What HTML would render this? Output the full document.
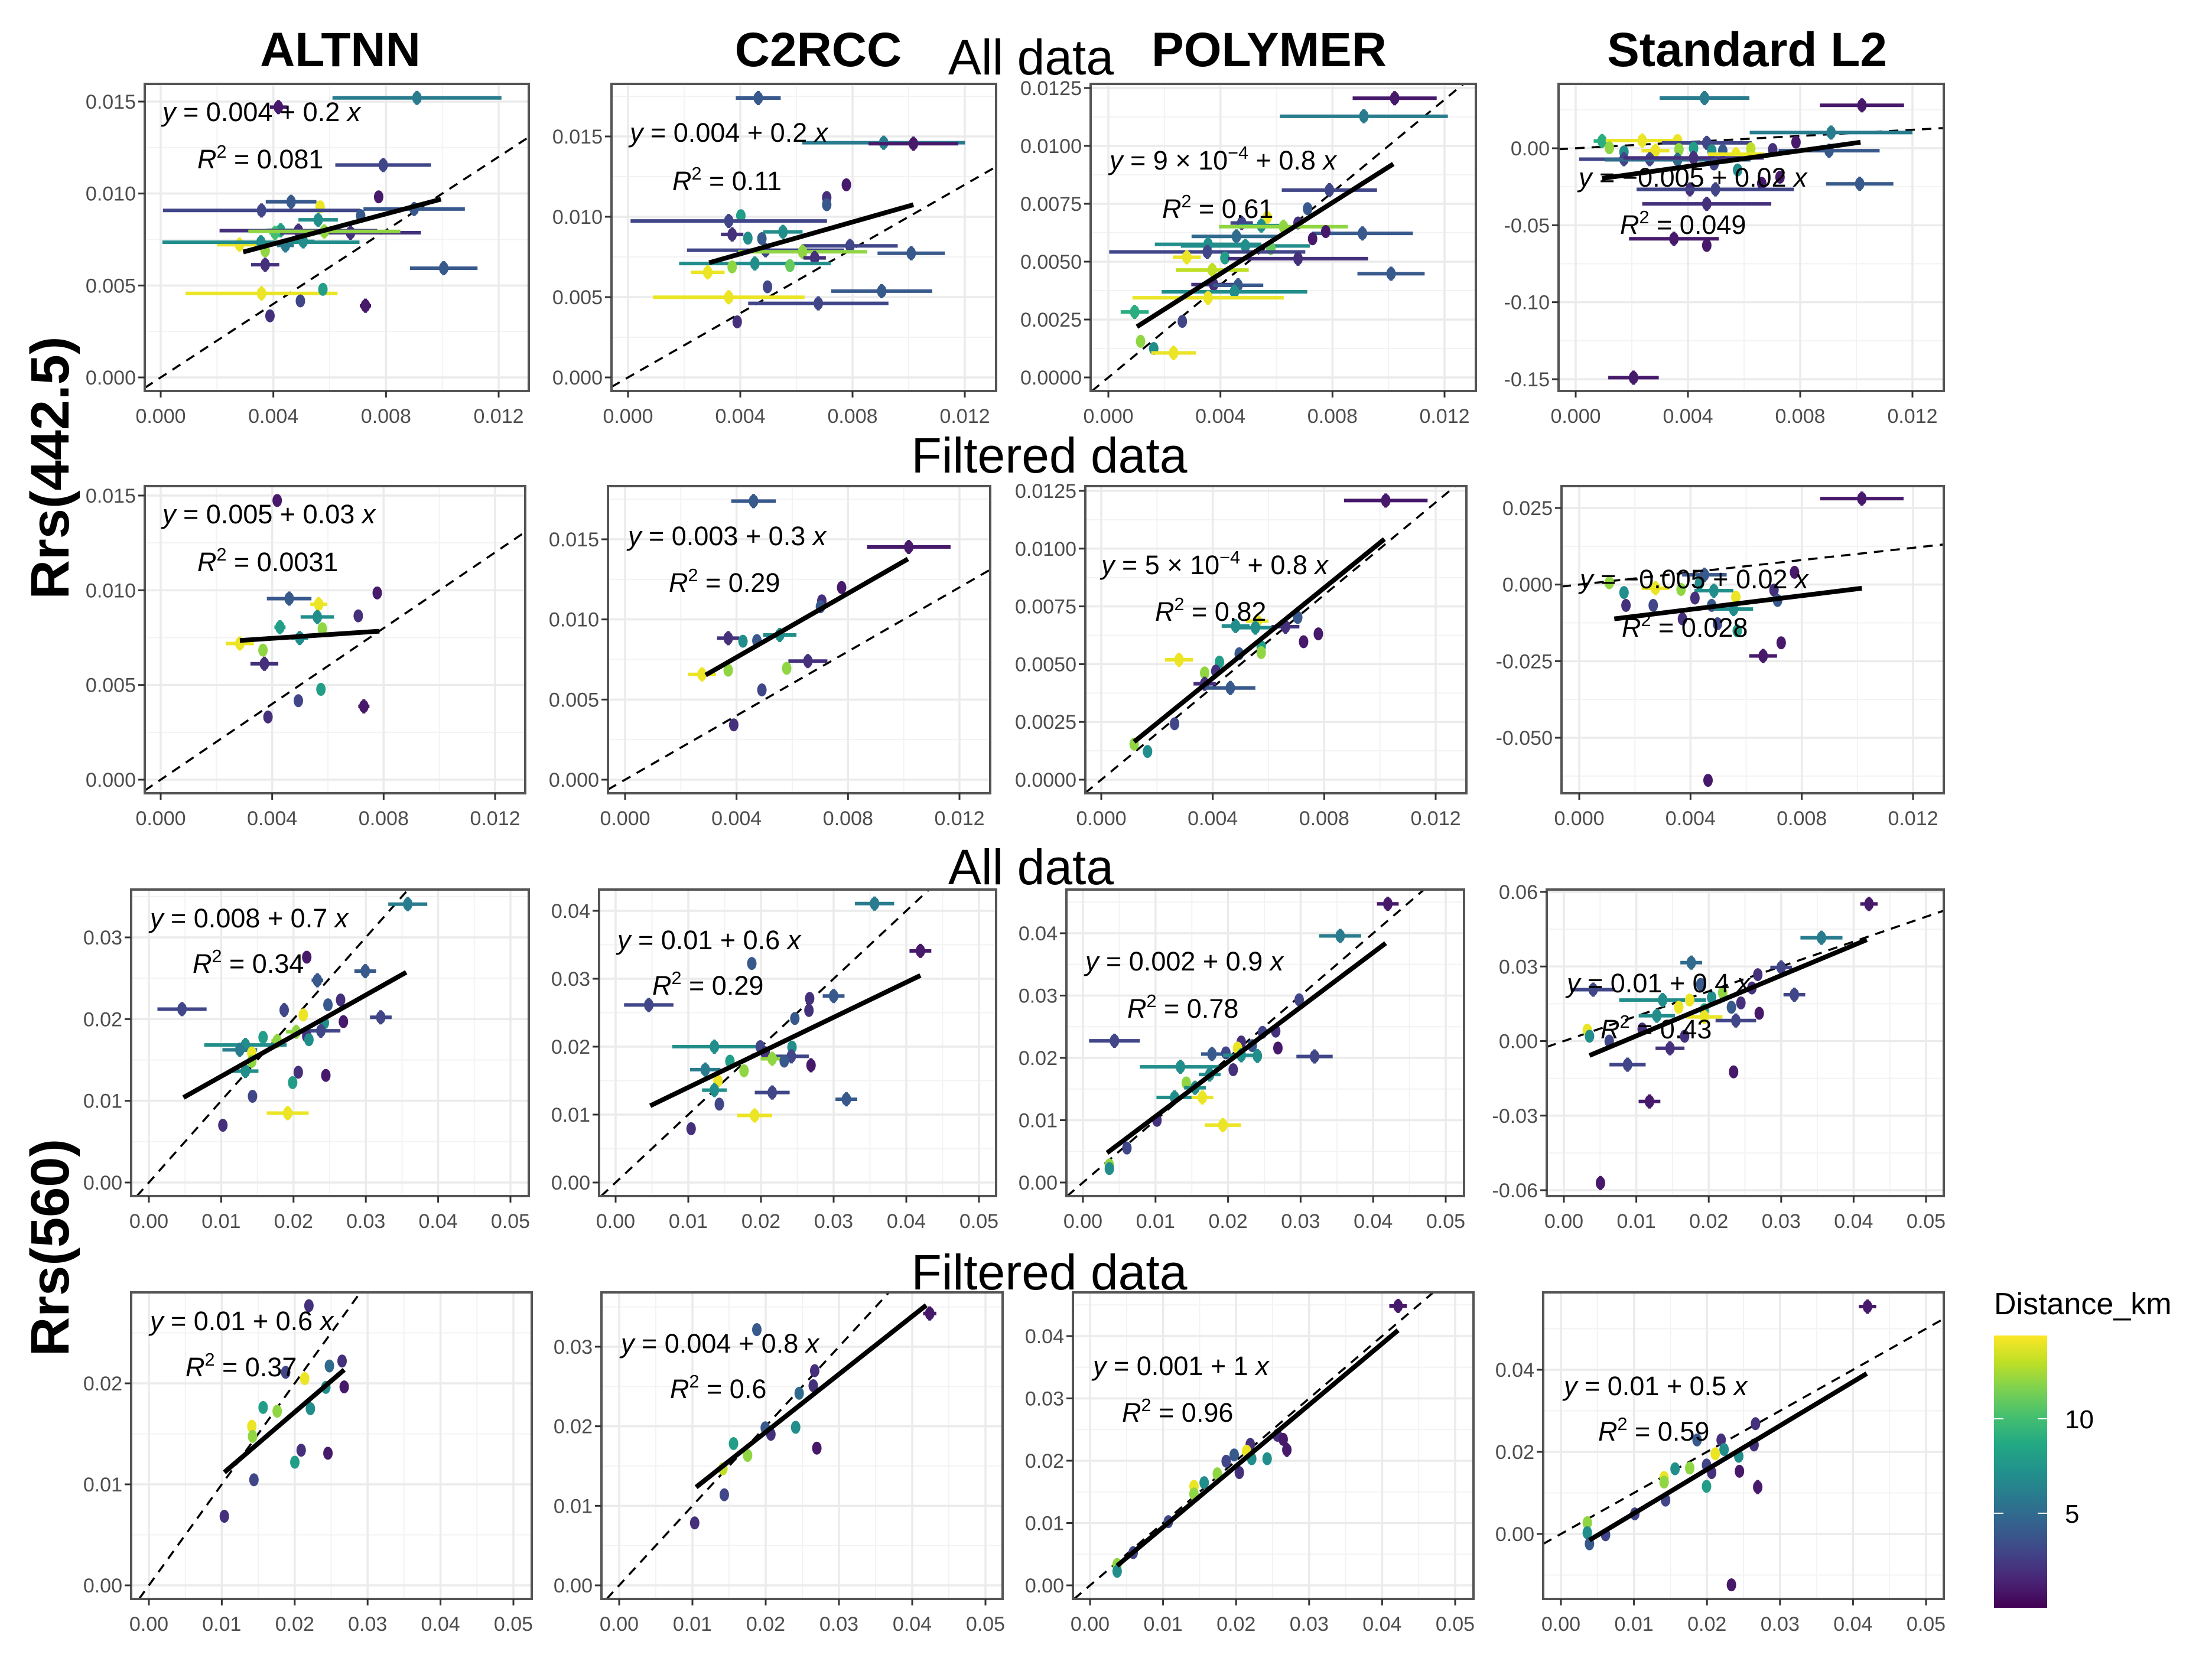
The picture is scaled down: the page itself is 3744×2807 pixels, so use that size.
<!DOCTYPE html>
<html><head><meta charset="utf-8">
<style>
html,body{margin:0;padding:0;background:#fff;overflow:hidden;width:3744px;height:2807px;}
svg{display:block;font-family:"Liberation Sans",sans-serif;overflow:hidden;}
</style></head>
<body>
<svg id="fig" width="3744" height="2807" viewBox="0 0 3744 2807" xmlns="http://www.w3.org/2000/svg"></svg>
<script>
// ---------- DATA (x, y, horizontal error half-width, distance km) ----------
const p11X=[.0091,.00418,.0079,.00774,.00463,.00566,.00358,.0090,.00559,.0071,.00426,.00406,.00489,.00674,.00581,.0028,.00356,.00443,.00506,.00371,.00371,.01005,.00358,.00576,.00496,.00727,.00388];
const p11Y=[.0152,.0147,.01155,.00982,.00955,.00928,.00908,.00916,.00857,.0088,.0080,.00787,.00798,.00787,.00794,.00722,.00735,.00718,.0074,.00689,.00613,.00594,.00457,.00479,.00416,.0039,.00335];
const p11E=[.003,.0003,.0017,0,.0009,0,.0035,.0018,.0007,0,.0005,.0002,.0028,.0025,.0027,.0008,.0035,.0003,.0004,0,.0005,.0012,.0027,0,0,.0002,0];
const p11D=[6,1,3,1,4,14,3,4,7,4,8,10,2,2,12,14,7,6,7,12,2,4,14,8,3,1,2];

const p12X=[.00464,.00911,.01017,.00778,.00708,.00708,.00402,.00359,.00552,.00371,.00427,.00477,.00791,.0049,.00622,.01009,.00665,.00452,.00577,.00371,.00284,.00497,.00904,.00359,.00678,.00389];
const p12Y=[.01739,.01461,.01455,.01199,.0112,.01075,.01007,.00974,.00906,.0089,.00867,.00864,.00819,.00792,.00782,.00773,.00744,.00709,.00696,.00688,.00654,.00564,.00537,.00499,.00461,.00346];
const p12E=[.0008,.0029,.0016,0,0,0,0,.0035,.0007,.0004,0,0,.0017,.0028,.0023,.0012,.0004,.0027,0,0,.0006,0,.0018,.0027,.0025,0];
const p12D=[4,6,1,1,2,4,8,3,7,2,7,4,3,3,12,4,2,7,11,12,14,3,4,14,3,2];

const p13X=[.01022,.00912,.00789,.00711,.00567,.00476,.00546,.00677,.00625,.00907,.00776,.00729,.00457,.00356,.00489,.0058,.00353,.0028,.00416,.00677,.00371,.00376,.00463,.0045,.00356,.01009,.00094,.00264,.00115,.00162,.00233];
const p13Y=[.01206,.01128,.00809,.00729,.00691,.00667,.00656,.00667,.00651,.00622,.0063,.00599,.00609,.00575,.00568,.00557,.00542,.00519,.00516,.00513,.00464,.00401,.00398,.0037,.00344,.00448,.00283,.00242,.00156,.00125,.00106];
const p13E=[.0015,.003,.0017,0,0,.0004,.0008,0,.0023,.0018,0,0,.0016,.0019,.0023,0,.0035,.0005,0,.0025,.0013,.0008,.0009,.0026,.0027,.0012,.0005,0,0,0,.0008];
const p13D=[1,6,3,4,14,3,7,2,12,4,1,1,5,7,7,11,3,14,8,2,13,2,4,7,14,4,9,3,12,7,14];

const p14X=[.00459,.0102,.0091,.00094,.00237,.00363,.00467,.00785,.0012,.00172,.00284,.00368,.0042,.00485,.00524,.00624,.00571,.00702,.00903,.00172,.00264,.00363,.0042,.00493,.00577,.00728,.00663,.01012,.00407,.00498,.00467,.0035,.00467,.00206];
const p14Y=[.0326,.0279,.0102,.0047,.005,.005,.0035,.0039,.0003,-.0024,-.0016,-.0008,0,-.0016,-.0016,-.0003,-.0039,-.0008,-.0016,-.0071,-.0071,-.0075,-.0063,-.0102,-.0141,-.0188,-.0228,-.0231,-.0267,-.0267,-.0361,-.0588,-.0631,-.149];
const p14E=[.0016,.0015,.0029,.0003,.0013,0,.0016,0,0,0,.0005,0,0,0,0,0,.001,0,.0018,.0016,.0016,.0026,.0025,0,0,0,0,.0012,.0019,.0028,.0023,.0016,0,.0009];
const p14D=[6,1,6,9,14,14,3,1,12,7,14,12,8,7,4,13,14,2,4,3,3,5,2,3,7,1,1,4,2,3,2,1,1,1];

const p21X=[.00418,.00777,.00461,.00567,.00562,.00709,.00428,.0058,.00499,.00284,.00367,.00372,.00575,.00494,.00729,.00385];
const p21Y=[.01474,.00986,.00956,.00926,.00859,.00865,.00805,.00797,.00748,.00719,.00684,.00612,.00477,.00417,.00387,.00331];
const p21E=[0,0,.0008,.0003,.0006,0,.0002,0,.0003,.0005,0,.0005,0,0,.0002,0];
const p21D=[1,1,4,14,7,2,8,12,7,14,12,2,8,3,1,2];

const p22X=[.00461,.01018,.00777,.00706,.00701,.00555,.0037,.00423,.00473,.00656,.0037,.0058,.00276,.00491,.0039];
const p22Y=[.01738,.01452,.01199,.01116,.01079,.00903,.00883,.00864,.00868,.0074,.00683,.00695,.00657,.0056,.00342];
const p22E=[.0008,.0015,0,0,0,.0006,.0004,0,0,.0007,0,0,.0005,0,0];
const p22D=[4,1,1,2,4,7,2,7,4,2,12,12,14,3,2];

const p23X=[.01021,.00705,.0056,.00482,.00553,.00661,.00779,.00726,.00574,.00574,.00495,.00279,.00424,.00411,.00371,.00371,.00463,.00263,.00118,.00166];
const p23Y=[.01208,.00702,.00686,.00665,.00658,.00662,.00631,.00597,.00576,.0055,.00545,.00519,.00509,.0047,.00462,.00415,.00397,.00242,.00154,.00122];
const p23E=[.0015,0,.0004,.0005,.0007,.0005,0,0,0,0,0,.0005,0,0,0,.0004,.0009,0,0,0];
const p23D=[1,4,14,7,7,2,1,1,8,12,4,14,8,2,12,2,4,3,12,7];

const p24X=[.01016,.00774,.00108,.0045,.00432,.00161,.00274,.00366,.00484,.007,.00563,.00416,.00713,.00168,.00266,.00476,.00555,.00371,.00497,.00568,.00726,.00661,.00463];
const p24Y=[.02806,.004,.0006,.0032,.0004,-.0026,-.0012,-.0016,-.002,-.0018,-.0041,-.0044,-.0052,-.0068,-.0068,-.0068,-.008,-.0112,-.0128,-.0151,-.019,-.0233,-.0639];
const p24E=[.0015,0,0,.0008,0,0,.0005,0,.0007,0,0,0,0,0,0,0,.0007,0,0,0,0,.0005,0];
const p24D=[1,1,12,4,7,7,14,12,7,2,14,2,4,2,3,4,7,2,3,8,1,1,1];

const p31X=[.0358,.02183,.02992,.0233,.02651,.02476,.00458,.01871,.02135,.03207,.0269,.02427,.02378,.02037,.02183,.01579,.02213,.01774,.01335,.01257,.01423,.01423,.01335,.02066,.02447,.01988,.01433,.0192,.01023];
const p31Y=[.03407,.02758,.02587,.02475,.02234,.02175,.02122,.0211,.02051,.02022,.01969,.01954,.01857,.01845,.01792,.01777,.01748,.01733,.01683,.01624,.01586,.01482,.01364,.0135,.01311,.01223,.01055,.00849,.00701];
const p31E=[.0027,0,.0015,.0008,0,0,.0034,.0005,0,.0015,0,0,.0027,.0014,0,0,0,.0008,.0057,.0024,0,0,.0018,0,0,0,0,.0029,0];
const p31D=[6,1,4,4,2,4,3,3,14,3,1,7,3,12,2,8,7,12,7,6,14,12,7,2,1,8,3,14,2];

const p32X=[.03563,.04194,.01874,.00456,.03,.0267,.0266,.02466,.01359,.0199,.02427,.02058,.02418,.02155,.0232,.01573,.02689,.01767,.01233,.01408,.01359,.02155,.03175,.01427,.01913,.01039];
const p32Y=[.04106,.0341,.03225,.02614,.02746,.0271,.02533,.02415,.02,.02,.01993,.01911,.01858,.01822,.01787,.01787,.01726,.01645,.01662,.01495,.0136,.01325,.01225,.01154,.00987,.00792];
const p32E=[.0027,.0015,0,.0034,.0015,0,0,0,.0058,0,0,0,.0024,.0016,0,0,.0005,0,.0021,0,.0017,.0024,.0015,0,.0024,0];
const p32D=[6,1,4,3,4,2,2,4,7,3,7,2,3,12,4,8,1,12,6,14,7,3,4,3,14,2];

const p33X=[.04202,.03545,.0298,.00434,.02475,.02657,.02687,.02182,.02333,.02131,.01778,.0197,.02182,.02404,.03192,.01343,.02071,.01747,.01424,.01545,.01263,.01646,.0102,.01929,.00606,.00364,.00364];
const p33Y=[.04472,.03957,.02932,.02274,.0241,.02429,.02158,.02255,.02197,.02158,.02062,.02081,.02042,.02031,.02023,.01857,.0181,.01733,.01598,.0152,.01365,.01365,.00998,.00921,.00553,.00282,.00224];
const p33E=[.0015,.0029,0,.0035,0,0,0,0,0,0,.0015,0,.0025,.0005,.0025,.0056,0,.0015,0,.0015,.0025,.0015,0,.0025,0,0,0];
const p33D=[1,6,3,3,3,2,1,2,4,14,4,3,7,7,3,7,2,7,12,7,7,14,2,14,3,12,7];

const p34X=[.04212,.03556,.01758,.03,.00404,.03182,.02677,.01889,.02596,.02192,.01364,.01737,.0204,.02444,.01586,.01939,.02313,.02697,.01283,.01939,.02374,.01081,.00323,.00354,.00626,.01667,.01465,.00879,.02343,.01182,.00505];
const p34Y=[.05515,.04155,.03155,.02961,.02068,.01864,.0267,.02282,.02136,.01942,.0165,.0165,.01748,.01534,.01359,.01262,.01359,.01117,.0102,.00971,.00825,.00485,.00437,.00194,0,.00194,-.0029,-.0095,-.0124,-.0243,-.0571];
const p34E=[.0012,.0029,.0015,.0015,.003,.0015,0,0,0,0,.006,0,0,0,0,0,0,0,.0025,.0025,.0028,0,0,0,0,0,.002,.0025,0,.0015,.0005];
const p34D=[1,6,5,3,3,3,2,4,2,12,7,14,7,2,14,9,4,1,7,14,3,2,14,7,3,2,2,3,1,1,1];

const p41X=[.02195,.0265,.02476,.01876,.02137,.02679,.02427,.01567,.02215,.0176,.01412,.01422,.02089,.02456,.02002,.01441,.01035];
const p41Y=[.02769,.02221,.02172,.02109,.02047,.01965,.0196,.01761,.01749,.01724,.01575,.01475,.01338,.01308,.01219,.01045,.00684];
const p41E=[0,0,0,0,0,0,0,0,0,0,0,0,0,0,0,0,0];
const p41D=[2,2,5,3,14,1,7,8,7,12,14,12,2,1,8,3,2];

const p42X=[.04239,.01879,.02669,.02649,.02457,.01994,.02409,.02071,.02698,.01561,.01753,.01416,.01435,.01031];
const p42Y=[.03418,.03215,.02699,.0251,.02415,.01981,.01987,.01899,.01725,.01782,.01633,.01465,.01139,.00785];
const p42E=[.0009,0,0,0,0,0,0,0,0,0,0,0,0,0];
const p42D=[1,4,2,2,5,4,7,2,1,8,12,13,3,2];

const p43X=[.04218,.02565,.02645,.02695,.02194,.02144,.01974,.01864,.02214,.02425,.02044,.01743,.01563,.01423,.01423,.01072,.00591,.00371,.00371];
const p43Y=[.04484,.02408,.02343,.02174,.02262,.02153,.02093,.01992,.02032,.02032,.0181,.0179,.01648,.01588,.01467,.01022,.00525,.00335,.00226];
const p43E=[.0012,0,0,.0005,0,0,0,0,0,0,0,0,0,0,0,0,0,0,0];
const p43D=[1,2,1,1,2,14,4,3,7,7,2,12,7,14,12,3,3,12,7];

const p44X=[.04198,.02665,.02194,.01864,.02645,.02234,.02114,.02435,.01994,.01563,.01764,.02064,.02445,.01413,.01413,.01994,.02695,.01433,.01012,.00361,.00361,.00611,.00391,.02335];
const p44Y=[.05539,.02687,.0229,.0229,.02168,.02058,.01954,.01893,.01679,.01588,.01606,.01496,.01527,.01374,.01264,.0116,.01142,.00824,.00489,.00275,.0003,-.0002,-.0024,-.0124];
const p44E=[.0012,0,0,0,0,0,0,0,0,0,0,0,0,0,0,0,.0005,0,0,0,0,0,0,0];
const p44D=[1,2,2,4,2,7,14,7,3,7,12,2,1,14,12,8,1,3,3,12,7,3,4,1];

// regression line endpoints (data units) [x1,x2] and [y1,y2]
const fitX=[[.00293,.00995],[.00289,.01017],[.00102,.01017],[.00094,.01015],[.00284,.00785],[.00289,.01015],[.00118,.01016],[.00126,.01016],[.00478,.03558],[.00476,.04194],[.00333,.04172],[.00354,.04182],[.01035,.02679],[.0105,.04191],[.00371,.04218],[.00391,.04188]];
const fitY=[[.00682,.00969],[.00714,.01075],[.00219,.00922],[-.0196,.0039],[.00735,.00784],[.00653,.01377],[.00164,.01041],[-.0112,-.0012],[.0104,.02573],[.0113,.03048],[.00476,.03841],[-.0058,.04078],[.01119,.02134],[.01234,.03522],[.00315,.04093],[-.0015,.03908]];
const eqLabels=["*y* = 0.004 + 0.2 *x*","*y* = 0.004 + 0.2 *x*","*y* = 9 × 10^−4^ + 0.8 *x*","*y* = −0.005 + 0.02 *x*","*y* = 0.005 + 0.03 *x*","*y* = 0.003 + 0.3 *x*","*y* = 5 × 10^−4^ + 0.8 *x*","*y* = −0.005 + 0.02 *x*","*y* = 0.008 + 0.7 *x*","*y* = 0.01 + 0.6 *x*","*y* = 0.002 + 0.9 *x*","*y* = 0.01 + 0.4 *x*","*y* = 0.01 + 0.6 *x*","*y* = 0.004 + 0.8 *x*","*y* = 0.001 + 1 *x*","*y* = 0.01 + 0.5 *x*"];
const r2Labels=["0.081","0.11","0.61","0.049","0.0031","0.29","0.82","0.028","0.34","0.29","0.78","0.43","0.37","0.6","0.96","0.59"];
const xTicks442=[0,.004,.008,.012];
const xTicks560=[0,.01,.02,.03,.04,.05];
const yTicksA=[0,.005,.01,.015];
const yTicksP=[0,.0025,.005,.0075,.01,.0125];
const yTicksS1=[-.15,-.1,-.05,0];
const yTicksS2=[-.05,-.025,0,.025];
const yTicks31=[0,.01,.02,.03];
const yTicks32=[0,.01,.02,.03,.04];
const yTicks34=[-.06,-.03,0,.03,.06];
const yTicks41=[0,.01,.02];
const yTicks44=[0,.02,.04];
const colTitles=["ALTNN","C2RCC","POLYMER","Standard L2"];
const cbTicks=[5,10];
const cbMax=14.4;

// ---------- LAYOUT ----------
const panels=[
 {n:'altnn-442-all',L:245,R:895,T:142,B:662,xp:[272,844],xv:[0,.012],yp:[639,172],yv:[0,.015],xt:xTicks442,yt:yTicksA,xd:3,yd:3,X:p11X,Y:p11Y,E:p11E,D:p11D,eq:[275,205],r2:[334,285]},
 {n:'c2rcc-442-all',L:1035,R:1686,T:142,B:662,xp:[1063,1633],xv:[0,.012],yp:[639,231],yv:[0,.015],xt:xTicks442,yt:yTicksA,xd:3,yd:3,X:p12X,Y:p12Y,E:p12E,D:p12D,eq:[1066,240],r2:[1138,322]},
 {n:'polymer-442-all',L:1846,R:2498,T:142,B:662,xp:[1876,2445],xv:[0,.012],yp:[639,149],yv:[0,.0125],xt:xTicks442,yt:yTicksP,xd:3,yd:4,X:p13X,Y:p13Y,E:p13E,D:p13D,eq:[1878,287],r2:[1967,369]},
 {n:'standard-442-all',L:2638,R:3290,T:142,B:662,xp:[2667,3237],xv:[0,.012],yp:[251,642],yv:[0,-.15],xt:xTicks442,yt:yTicksS1,xd:3,yd:2,X:p14X,Y:p14Y,E:p14E,D:p14D,eq:[2672,316],r2:[2742,396]},
 {n:'altnn-442-filtered',L:245,R:889,T:823,B:1343,xp:[272,838],xv:[0,.012],yp:[1320,839],yv:[0,.015],xt:xTicks442,yt:yTicksA,xd:3,yd:3,X:p21X,Y:p21Y,E:p21E,D:p21D,eq:[275,886],r2:[334,967]},
 {n:'c2rcc-442-filtered',L:1029,R:1676,T:823,B:1343,xp:[1058,1624],xv:[0,.012],yp:[1320,913],yv:[0,.015],xt:xTicks442,yt:yTicksA,xd:3,yd:3,X:p22X,Y:p22Y,E:p22E,D:p22D,eq:[1063,923],r2:[1132,1002]},
 {n:'polymer-442-filtered',L:1837,R:2482,T:823,B:1343,xp:[1864,2430],xv:[0,.012],yp:[1320,831],yv:[0,.0125],xt:xTicks442,yt:yTicksP,xd:3,yd:4,X:p23X,Y:p23Y,E:p23E,D:p23D,eq:[1864,972],r2:[1955,1051]},
 {n:'standard-442-filtered',L:2643,R:3290,T:823,B:1343,xp:[2673,3238],xv:[0,.012],yp:[860,1249],yv:[.025,-.05],xt:xTicks442,yt:yTicksS2,xd:3,yd:3,X:p24X,Y:p24Y,E:p24E,D:p24D,eq:[2674,996],r2:[2745,1078]},
 {n:'altnn-560-all',L:222,R:895,T:1506,B:2025,xp:[252,864],xv:[0,.05],yp:[2002,1587],yv:[0,.03],xt:xTicks560,yt:yTicks31,xd:2,yd:2,X:p31X,Y:p31Y,E:p31E,D:p31D,eq:[254,1570],r2:[326,1647]},
 {n:'c2rcc-560-all',L:1014,R:1686,T:1506,B:2025,xp:[1042,1657],xv:[0,.05],yp:[2002,1542],yv:[0,.04],xt:xTicks560,yt:yTicks32,xd:2,yd:2,X:p32X,Y:p32Y,E:p32E,D:p32D,eq:[1045,1607],r2:[1104,1684]},
 {n:'polymer-560-all',L:1805,R:2478,T:1506,B:2025,xp:[1833,2447],xv:[0,.05],yp:[2002,1580],yv:[0,.04],xt:xTicks560,yt:yTicks32,xd:2,yd:2,X:p33X,Y:p33Y,E:p33E,D:p33D,eq:[1837,1643],r2:[1908,1723]},
 {n:'standard-560-all',L:2618,R:3290,T:1506,B:2025,xp:[2647,3260],xv:[0,.05],yp:[2015,1510],yv:[-.06,.06],xt:xTicks560,yt:yTicks34,xd:2,yd:2,X:p34X,Y:p34Y,E:p34E,D:p34D,eq:[2652,1680],r2:[2709,1758]},
 {n:'altnn-560-filtered',L:222,R:900,T:2188,B:2707,xp:[252,869],xv:[0,.05],yp:[2684,2342],yv:[0,.02],xt:xTicks560,yt:yTicks41,xd:2,yd:2,X:p41X,Y:p41Y,E:p41E,D:p41D,eq:[254,2252],r2:[314,2330]},
 {n:'c2rcc-560-filtered',L:1018,R:1697,T:2188,B:2707,xp:[1048,1668],xv:[0,.05],yp:[2684,2280],yv:[0,.03],xt:xTicks560,yt:yTicks31,xd:2,yd:2,X:p42X,Y:p42Y,E:p42E,D:p42D,eq:[1051,2290],r2:[1134,2367]},
 {n:'polymer-560-filtered',L:1816,R:2494,T:2188,B:2707,xp:[1845,2463],xv:[0,.05],yp:[2684,2262],yv:[0,.04],xt:xTicks560,yt:yTicks32,xd:2,yd:2,X:p43X,Y:p43Y,E:p43E,D:p43D,eq:[1850,2328],r2:[1899,2407]},
 {n:'standard-560-filtered',L:2612,R:3290,T:2188,B:2707,xp:[2642,3260],xv:[0,.05],yp:[2597,2319],yv:[0,.04],xt:xTicks560,yt:yTicks44,xd:2,yd:2,X:p44X,Y:p44Y,E:p44E,D:p44D,eq:[2647,2362],r2:[2705,2439]}
];

const NS='http://www.w3.org/2000/svg';
const svg=document.getElementById('fig');
function el(tag,parent){const e=document.createElementNS(NS,tag);parent.appendChild(e);return e;}
function set(e,o){for(const k in o)e.setAttribute(k,o[k]);return e;}
const VIR=['#440154','#482475','#414487','#355f8d','#2a788e','#21918c','#22a884','#44bf70','#7ad151','#bddf26','#fde725'];
function hex(c){return [1,3,5].map(i=>parseInt(c.substr(i,2),16));}
function viridis(t){t=Math.max(0,Math.min(1,t));const f=t*10,i=Math.min(9,Math.floor(f)),r=f-i;const a=hex(VIR[i]),b=hex(VIR[i+1]);return 'rgb('+a.map((v,k)=>Math.round(v+(b[k]-v)*r)).join(',')+')';}
function rich(t,str,size){
  const parts=str.split(/(\*[^*]+\*|\^[^^]+\^)/);
  let up=false;
  parts.forEach(p=>{if(!p)return;const s=el('tspan',t);
    if(p[0]==='*'){s.textContent=p.slice(1,-1);s.setAttribute('font-style','italic');if(up){s.setAttribute('dy',size*0.4);up=false;}}
    else if(p[0]==='^'){s.textContent=p.slice(1,-1);s.setAttribute('font-size',size*0.68);s.setAttribute('dy',-size*0.4);up=true;}
    else{s.textContent=p;if(up){s.setAttribute('dy',size*0.4);up=false;}}
  });
}
const defs=el('defs',svg);

panels.forEach((p,pi)=>{
  const g=el('g',svg);
  
  
  const sx=v=>p.xp[0]+(v-p.xv[0])/(p.xv[1]-p.xv[0])*(p.xp[1]-p.xp[0]);
  const sy=v=>p.yp[0]+(v-p.yv[0])/(p.yv[1]-p.yv[0])*(p.yp[1]-p.yp[0]);
  const ix=px=>p.xv[0]+(px-p.xp[0])/(p.xp[1]-p.xp[0])*(p.xv[1]-p.xv[0]);
  const iy=py=>p.yv[0]+(py-p.yp[0])/(p.yp[1]-p.yp[0])*(p.yv[1]-p.yv[0]);
  const cp=el('clipPath',defs);cp.id='clip'+pi;
  set(el('rect',cp),{x:p.L,y:p.T,width:p.R-p.L,height:p.B-p.T});
  const bg=set(el('rect',g),{x:p.L,y:p.T,width:p.R-p.L,height:p.B-p.T,fill:'#fff'});
  
  
  const grid=el('g',g);grid.setAttribute('clip-path','url(#clip'+pi+')');
  
  
  const xs=p.xt.map(sx), ys=p.yt.map(sy);
  const minorX=[];{const st=xs[1]-xs[0];for(let v=xs[0]-st/2;v<p.R;v+=st)if(v>p.L)minorX.push(v);}
  const ysS=ys.slice().sort((a,b)=>a-b);
  const minorY=[];{const st=ysS[1]-ysS[0];for(let v=ysS[0]-st/2;v<p.B;v+=st)if(v>p.T)minorY.push(v);}
  minorX.forEach(x=>set(el('line',grid),{x1:x,x2:x,y1:p.T,y2:p.B,stroke:'#f3f3f3','stroke-width':2}));
  minorY.forEach(y=>set(el('line',grid),{x1:p.L,x2:p.R,y1:y,y2:y,stroke:'#f3f3f3','stroke-width':2}));
  xs.forEach(x=>set(el('line',grid),{x1:x,x2:x,y1:p.T,y2:p.B,stroke:'#ebebeb','stroke-width':3.5}));
  ys.forEach(y=>set(el('line',grid),{x1:p.L,x2:p.R,y1:y,y2:y,stroke:'#ebebeb','stroke-width':3.5}));
  // 1:1 line limited to panel domain
  const xa0=Math.min(ix(p.L),ix(p.R)), xa1=Math.max(ix(p.L),ix(p.R));
  const ya0=Math.min(iy(p.T),iy(p.B)), ya1=Math.max(iy(p.T),iy(p.B));
  const lo=Math.max(xa0,ya0), hi=Math.min(xa1,ya1);
  const one=set(el('line',g),{x1:sx(lo),y1:sy(lo),x2:sx(hi),y2:sy(hi),stroke:'#000','stroke-width':3.5,'stroke-dasharray':'16 12','clip-path':'url(#clip'+pi+')'});
  
  
  const pts=el('g',g);pts.setAttribute('clip-path','url(#clip'+pi+')');
  
  
  p.X.forEach((xv,i)=>{
    const c=viridis(p.D[i]/cbMax);const cx=sx(xv),cy=sy(p.Y[i]);
    if(p.E[i]>0){
      const eb=set(el('line',pts),{x1:sx(xv-p.E[i]),x2:sx(xv+p.E[i]),y1:cy,y2:cy,stroke:c,'stroke-width':6});
      
      
      set(el('line',pts),{x1:cx,x2:cx,y1:cy-12,y2:cy+12,stroke:c,'stroke-width':5});
    }
    const pt=set(el('ellipse',pts),{cx:cx,cy:cy,rx:8,ry:11,fill:c});
    
    
  });
  const rl=set(el('line',g),{x1:sx(fitX[pi][0]),y1:sy(fitY[pi][0]),x2:sx(fitX[pi][1]),y2:sy(fitY[pi][1]),stroke:'#000','stroke-width':8});
  
  
  const eq=set(el('text',g),{x:p.eq[0],y:p.eq[1],'font-size':45,fill:'#000'});
  
  
  rich(eq,eqLabels[pi],45);
  const r2=set(el('text',g),{x:p.r2[0],y:p.r2[1],'font-size':45,fill:'#000'});
  
  
  rich(r2,'*R*^2^ = '+r2Labels[pi],45);
  const bd=set(el('rect',g),{x:p.L,y:p.T,width:p.R-p.L,height:p.B-p.T,fill:'none',stroke:'#555','stroke-width':4});
  
  
  const xa=el('g',g);
  
  
  p.xt.forEach(v=>{const x=sx(v);
    set(el('line',xa),{x1:x,x2:x,y1:p.B,y2:p.B+11,stroke:'#333','stroke-width':3});
    const t=set(el('text',xa),{x:x,y:p.B+54,'font-size':34,fill:'#4d4d4d','text-anchor':'middle'});
    t.textContent=v.toFixed(p.xd);
    
    
  });
  const ya=el('g',g);
  
  
  p.yt.forEach(v=>{const y=sy(v);
    set(el('line',ya),{x1:p.L-11,x2:p.L,y1:y,y2:y,stroke:'#333','stroke-width':3});
    const t=set(el('text',ya),{x:p.L-15,y:y+12,'font-size':34,fill:'#4d4d4d','text-anchor':'end'});
    t.textContent=(Math.abs(v)<1e-12?0:v).toFixed(p.yd);
    
    
  });
});

const colX=[576,1385,2148,2957];
colTitles.forEach((s,i)=>{
  const t=set(el('text',svg),{x:colX[i],y:112,'font-size':82,'font-weight':'bold','text-anchor':'middle',fill:'#000'});
  t.textContent=s;
  
  
});
[[1745,126,'All data'],[1776,800,'Filtered data'],[1745,1497,'All data'],[1776,2183,'Filtered data']].forEach(a=>{
  const t=set(el('text',svg),{x:a[0],y:a[1],'font-size':84,'text-anchor':'middle',fill:'#000'});
  t.textContent=a[2];
  
  
});
[[792,'Rrs(442.5)'],[2112,'Rrs(560)']].forEach(a=>{
  const t=set(el('text',svg),{x:0,y:0,'font-size':92,'font-weight':'bold','text-anchor':'middle',fill:'#000',transform:'translate(116,'+a[0]+') rotate(-90)'});
  t.textContent=a[1];
  
  
});

const lg=el('g',svg);


const gr=el('linearGradient',defs);gr.id='vir';set(gr,{x1:0,y1:1,x2:0,y2:0});
for(let i=0;i<=20;i++){set(el('stop',gr),{offset:i/20,'stop-color':viridis(i/20)});}
const cbTop=2261,cbBot=2722,cbL=3375,cbR=3465;
const cb=set(el('rect',lg),{x:cbL,y:cbTop,width:cbR-cbL,height:cbBot-cbTop,fill:'url(#vir)'});


const lt=set(el('text',lg),{x:3375,y:2225,'font-size':52,fill:'#000'});
lt.textContent='Distance_km';


cbTicks.forEach(v=>{
  const y=cbBot-(v/cbMax)*(cbBot-cbTop);
  set(el('line',lg),{x1:cbL,x2:cbL+16,y1:y,y2:y,stroke:'#fff','stroke-width':2});
  set(el('line',lg),{x1:cbR-16,x2:cbR,y1:y,y2:y,stroke:'#fff','stroke-width':2});
  const t=set(el('text',lg),{x:3495,y:y+16,'font-size':44,fill:'#000'});
  t.textContent=String(v);
  
  
});
</script>
</body></html>
